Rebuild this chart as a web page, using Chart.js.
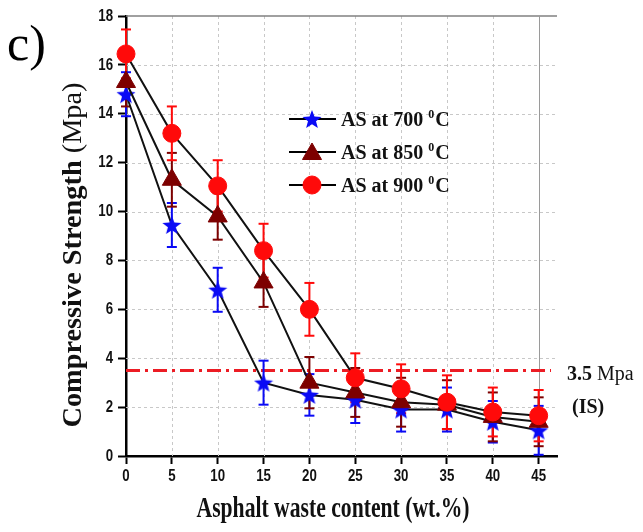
<!DOCTYPE html>
<html>
<head>
<meta charset="utf-8">
<script src="https://cdn.jsdelivr.net/npm/chart.js@4.4.1/dist/chart.umd.min.js"></script>
<style>
    body { margin: 0; background: #fff; }
    #wrap { width: 643px; height: 532px; }
</style>
</head>
<body>
<div id="wrap"><canvas id="strengthChart" width="643" height="532"></canvas></div>
<script>
// ===========================
// Data
// ===========================
const wasteContent = [0, 5, 10, 15, 20, 25, 30, 35, 40, 45];
const xTicks = [0, 5, 10, 15, 20, 25, 30, 35, 40, 45];
const yTicks = [0, 2, 4, 6, 8, 10, 12, 14, 16, 18];

const strength700 = [14.8, 9.45, 6.8, 3.0, 2.5, 2.3, 1.9, 1.9, 1.4, 1.05];
const strength850 = [15.3, 11.3, 9.8, 7.1, 3.0, 2.6, 2.2, 2.1, 1.6, 1.4];
const strength900 = [16.45, 13.2, 11.05, 8.4, 6.0, 3.2, 2.75, 2.2, 1.8, 1.65];

const error700 = [0.9, 0.9, 0.9, 0.9, 0.85, 0.95, 0.9, 0.9, 0.85, 1.0];
const error850 = [1.0, 1.1, 0.95, 1.0, 1.05, 1.0, 1.0, 1.0, 1.0, 1.0];
const error900 = [1.0, 1.1, 1.05, 1.1, 1.08, 1.0, 1.0, 1.1, 1.0, 1.05];

const seriesLabels = ["AS at 700", "AS at 850", "AS at 900"];
const thresholdValue = 3.5;

// ===========================
// Helpers
// ===========================
function makeStar(size, color) {
    const c = document.createElement("canvas");
    c.width = size;
    c.height = size;
    const g = c.getContext("2d");
    const R = size / 2, r = R * 0.42;
    g.fillStyle = color;
    g.beginPath();
    for (let i = 0; i < 10; i++) {
        const a = -Math.PI / 2 + i * Math.PI / 5;
        const rad = i % 2 === 0 ? R : r;
        g.lineTo(R + rad * Math.cos(a), R + 1 + rad * Math.sin(a));
    }
    g.closePath();
    g.fill();
    return c;
}

function textScaled(ctx, text, x, y, sx, align) {
    ctx.save();
    ctx.translate(x, y);
    ctx.scale(sx, 1);
    ctx.textAlign = align;
    ctx.fillText(text, 0, 0);
    ctx.restore();
}

function line(ctx, x1, y1, x2, y2) {
    ctx.beginPath();
    ctx.moveTo(x1, y1);
    ctx.lineTo(x2, y2);
    ctx.stroke();
}

const blue = "#0a0af5";
const darkRed = "#7d0000";
const red = "#ff0a0a";
const starImg = makeStar(20, blue);

function toPoints(values) {
    return values.map((v, i) => ({ x: wasteContent[i], y: v }));
}

// ===========================
// Plugin : grille, erreurs, textes
// ===========================
const decorPlugin = {
    id: "decor",
    beforeDatasetsDraw(chart) {
        const { ctx, chartArea: a, scales: { x, y } } = chart;
        ctx.save();

        // grille pointillée
        ctx.strokeStyle = "#c8c8c8";
        ctx.lineWidth = 1;
        ctx.setLineDash([3, 3]);
        x.ticks.forEach(t => {
            if (t.value > 0 && t.value < 45) {
                const px = Math.round(x.getPixelForValue(t.value)) + 0.5;
                line(ctx, px, a.top, px, a.bottom);
            }
        });
        y.ticks.forEach(t => {
            if (t.value > 0 && t.value < 18) {
                const py = Math.round(y.getPixelForValue(t.value)) + 0.5;
                line(ctx, a.left, py, a.right, py);
            }
        });
        ctx.setLineDash([]);

        // cadre haut + ligne à 45
        ctx.strokeStyle = "#808080";
        ctx.lineWidth = 1.5;
        line(ctx, a.left, a.top, a.right, a.top);
        const p45 = Math.round(x.getPixelForValue(45)) + 0.5;
        ctx.strokeStyle = "#9a9a9a";
        ctx.lineWidth = 1;
        line(ctx, p45, a.top, p45, a.bottom);

        // ligne 3.5 Mpa
        ctx.strokeStyle = "#ec1c24";
        ctx.lineWidth = 3;
        ctx.setLineDash([14, 5, 3, 5]);
        const pth = y.getPixelForValue(thresholdValue);
        line(ctx, a.left, pth, a.right - 6, pth);
        ctx.setLineDash([]);

        // barres d'erreur
        const sets = [
            [strength700, error700, blue],
            [strength850, error850, darkRed],
            [strength900, error900, red]
        ];
        ctx.lineWidth = 2;
        sets.forEach(([vals, errs, col]) => {
            ctx.strokeStyle = col;
            vals.forEach((v, i) => {
                const px = x.getPixelForValue(wasteContent[i]);
                const top = y.getPixelForValue(v + errs[i]);
                const bot = y.getPixelForValue(Math.max(0, v - errs[i]));
                line(ctx, px, top, px, bot);
                line(ctx, px - 5, top, px + 5, top);
                line(ctx, px - 5, bot, px + 5, bot);
            });
        });
        ctx.restore();
    },
    afterDraw(chart) {
        const { ctx, chartArea: a, scales: { x, y } } = chart;
        ctx.save();
        ctx.fillStyle = "#111";

        // étiquettes des graduations
        ctx.font = 'bold 17px "Liberation Sans", Arial, sans-serif';
        ctx.textBaseline = "middle";
        y.ticks.forEach(t => {
            textScaled(ctx, String(t.value), 113, y.getPixelForValue(t.value), 0.78, "right");
        });
        x.ticks.forEach(t => {
            textScaled(ctx, String(t.value), x.getPixelForValue(t.value), 476, 0.78, "center");
        });

        // titre axe X
        ctx.textBaseline = "alphabetic";
        ctx.font = 'bold 29px "Liberation Serif", "Times New Roman", serif';
        const xTitle = "Asphalt waste content (wt.%)";
        const sx = 273 / ctx.measureText(xTitle).width;
        textScaled(ctx, xTitle, 333, 517, sx, "center");

        // titre axe Y (gras + normal)
        const boldPart = "Compressive Strength ";
        const normPart = "(Mpa)";
        ctx.font = 'bold 27px "Liberation Serif", "Times New Roman", serif';
        const wb = ctx.measureText(boldPart).width;
        ctx.font = '27px "Liberation Serif", "Times New Roman", serif';
        const wn = ctx.measureText(normPart).width;
        const sy = 345 / (wb + wn);
        ctx.save();
        ctx.translate(81, 255);
        ctx.rotate(-Math.PI / 2);
        ctx.scale(sy, 1);
        ctx.textAlign = "left";
        ctx.font = 'bold 27px "Liberation Serif", "Times New Roman", serif';
        ctx.fillText(boldPart, -(wb + wn) / 2, 0);
        ctx.font = '27px "Liberation Serif", "Times New Roman", serif';
        ctx.fillText(normPart, -(wb + wn) / 2 + wb, 0);
        ctx.restore();

        // légende
        const legendMarks = [
            { pointStyle: starImg, radius: 9 },
            { pointStyle: "triangle", radius: 11, color: darkRed },
            { pointStyle: "circle", radius: 9, color: red }
        ];
        const rows = [119, 152, 185];
        rows.forEach((ry, i) => {
            ctx.strokeStyle = "#000";
            ctx.lineWidth = 2;
            line(ctx, 289, ry, 336, ry);
            const m = legendMarks[i];
            ctx.fillStyle = m.color || blue;
            ctx.strokeStyle = m.color || blue;
            ctx.lineWidth = 1;
            Chart.helpers.drawPoint(ctx, { pointStyle: m.pointStyle, radius: m.radius, rotation: 0, borderWidth: 1 }, 312, i === 1 ? ry + 2 : ry);
            ctx.fillStyle = "#111";
            ctx.textAlign = "left";
            ctx.font = 'bold 20px "Liberation Serif", "Times New Roman", serif';
            const lbl = seriesLabels[i] + " ";
            ctx.fillText(lbl, 341, ry + 7);
            const w = ctx.measureText(lbl).width;
            ctx.font = 'bold 12px "Liberation Serif", "Times New Roman", serif';
            ctx.fillText("0", 341 + w, ry - 1);
            const w0 = ctx.measureText("0").width;
            ctx.font = 'bold 20px "Liberation Serif", "Times New Roman", serif';
            ctx.fillText("C", 341 + w + w0 + 1, ry + 7);
        });

        // annotations
        ctx.textAlign = "left";
        ctx.font = 'bold 20px "Liberation Serif", "Times New Roman", serif';
        ctx.fillText("3.5", 567, 380);
        const w35 = ctx.measureText("3.5 ").width;
        ctx.font = '20px "Liberation Serif", "Times New Roman", serif';
        ctx.fillText("Mpa", 567 + w35, 380);
        ctx.font = 'bold 20px "Liberation Serif", "Times New Roman", serif';
        ctx.fillText("(IS)", 572, 413);

        // lettre du panneau
        ctx.font = '50px "Liberation Serif", "Times New Roman", serif';
        ctx.fillStyle = "#000";
        ctx.fillText("c)", 7, 60);
        ctx.restore();
    }
};

// ===========================
// Graphique Chart.js
// ===========================
document.addEventListener("DOMContentLoaded", function () {
    const ctx = document.getElementById("strengthChart").getContext("2d");

    const common = {
        borderColor: "#111",
        borderWidth: 2,
        tension: 0,
        fill: false,
        clip: false,
        pointBorderWidth: 1
    };

    const data = {
        datasets: [
            Object.assign({}, common, {
                label: seriesLabels[0],
                data: toPoints(strength700),
                pointStyle: starImg,
                pointRadius: 9,
                pointBackgroundColor: blue,
                pointBorderColor: blue,
                order: 2
            }),
            Object.assign({}, common, {
                label: seriesLabels[1],
                data: toPoints(strength850),
                pointStyle: "triangle",
                pointRadius: 11,
                pointBackgroundColor: darkRed,
                pointBorderColor: darkRed,
                order: 1
            }),
            Object.assign({}, common, {
                label: seriesLabels[2],
                data: toPoints(strength900),
                pointStyle: "circle",
                pointRadius: 9,
                pointBackgroundColor: red,
                pointBorderColor: red,
                order: 0
            })
        ]
    };

    const options = {
        responsive: false,
        animation: false,
        layout: { padding: { top: 16, right: 86, left: 0, bottom: 0 } },
        scales: {
            x: {
                type: "linear",
                min: 0,
                max: 47,
                afterBuildTicks: s => { s.ticks = xTicks.map(v => ({ value: v })); },
                afterFit: s => { s.height = 76; },
                ticks: { display: false },
                grid: { drawOnChartArea: false, drawTicks: true, tickLength: 8, tickColor: "#000", tickWidth: 2 },
                border: { color: "#000", width: 2.5 }
            },
            y: {
                min: 0,
                max: 18,
                afterBuildTicks: s => { s.ticks = yTicks.map(v => ({ value: v })); },
                afterFit: s => { s.width = 126; },
                ticks: { display: false },
                grid: { drawOnChartArea: false, drawTicks: true, tickLength: 8, tickColor: "#000", tickWidth: 2 },
                border: { color: "#000", width: 2.5 }
            }
        },
        plugins: {
            legend: { display: false },
            tooltip: { enabled: false }
        }
    };

    new Chart(ctx, {
        type: "line",
        data: data,
        options: options,
        plugins: [decorPlugin]
    });
});
</script>
</body>
</html>
